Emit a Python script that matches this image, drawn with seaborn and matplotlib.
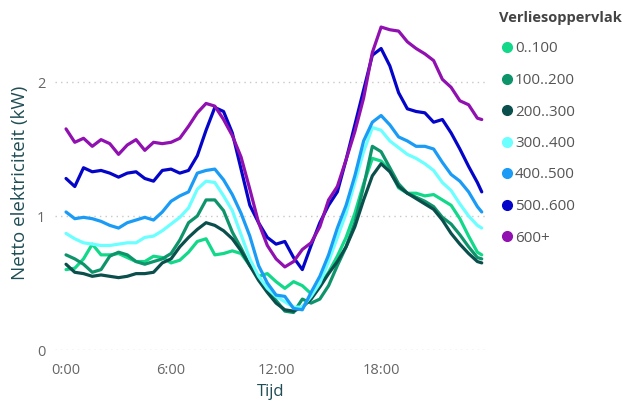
import numpy as np
import pandas as pd
import matplotlib
matplotlib.use("Agg")
import matplotlib.pyplot as plt
from matplotlib.lines import Line2D
import seaborn as sns

# ---- data ----
hours = [i * 0.5 for i in range(48)] + [23.75]

cat_0_100 = [0.60, 0.61, 0.68, 0.79, 0.71, 0.71, 0.72, 0.69, 0.66, 0.66, 0.70, 0.69,
             0.65, 0.67, 0.73, 0.81, 0.83, 0.71, 0.72, 0.74, 0.72, 0.63, 0.55, 0.57,
             0.51, 0.46, 0.51, 0.48, 0.42, 0.48, 0.58, 0.70, 0.84, 1.02, 1.24, 1.43,
             1.41, 1.34, 1.21, 1.17, 1.17, 1.15, 1.16, 1.12, 1.08, 0.98, 0.85, 0.73, 0.71]
cat_100_200 = [0.71, 0.68, 0.64, 0.58, 0.60, 0.70, 0.73, 0.71, 0.66, 0.64, 0.66, 0.68,
               0.72, 0.82, 0.95, 1.00, 1.12, 1.12, 1.04, 0.88, 0.76, 0.63, 0.54, 0.46,
               0.37, 0.29, 0.28, 0.38, 0.35, 0.38, 0.48, 0.63, 0.77, 0.95, 1.22, 1.52,
               1.48, 1.36, 1.24, 1.17, 1.14, 1.11, 1.07, 0.99, 0.94, 0.86, 0.77, 0.69, 0.68]
cat_200_300 = [0.64, 0.58, 0.57, 0.55, 0.56, 0.55, 0.54, 0.55, 0.57, 0.57, 0.58, 0.65,
               0.68, 0.77, 0.84, 0.90, 0.95, 0.93, 0.89, 0.83, 0.74, 0.63, 0.52, 0.43,
               0.35, 0.30, 0.29, 0.32, 0.38, 0.47, 0.57, 0.66, 0.77, 0.92, 1.12, 1.30,
               1.39, 1.33, 1.22, 1.17, 1.13, 1.09, 1.05, 0.97, 0.87, 0.79, 0.72, 0.66, 0.65]
cat_300_400 = [0.87, 0.83, 0.80, 0.79, 0.78, 0.78, 0.79, 0.80, 0.80, 0.84, 0.85, 0.89,
               0.94, 0.99, 1.06, 1.20, 1.26, 1.25, 1.15, 1.04, 0.86, 0.68, 0.55, 0.46,
               0.40, 0.36, 0.32, 0.32, 0.40, 0.50, 0.66, 0.84, 1.02, 1.25, 1.48, 1.66,
               1.64, 1.56, 1.51, 1.46, 1.43, 1.39, 1.34, 1.25, 1.19, 1.09, 1.00, 0.93, 0.91]
cat_400_500 = [1.03, 0.98, 0.99, 0.98, 0.96, 0.93, 0.91, 0.95, 0.97, 0.99, 0.97, 1.03,
               1.11, 1.15, 1.18, 1.32, 1.34, 1.35, 1.27, 1.16, 1.02, 0.85, 0.63, 0.50,
               0.41, 0.40, 0.31, 0.30, 0.43, 0.55, 0.71, 0.91, 1.08, 1.30, 1.56, 1.70,
               1.75, 1.68, 1.59, 1.56, 1.52, 1.52, 1.50, 1.40, 1.31, 1.26, 1.18, 1.07, 1.03]
cat_500_600 = [1.28, 1.22, 1.36, 1.33, 1.34, 1.32, 1.29, 1.32, 1.33, 1.28, 1.26, 1.34,
               1.35, 1.32, 1.34, 1.45, 1.64, 1.81, 1.78, 1.62, 1.35, 1.08, 0.95, 0.84,
               0.79, 0.81, 0.69, 0.60, 0.78, 0.95, 1.08, 1.18, 1.42, 1.68, 1.94, 2.20,
               2.25, 2.12, 1.92, 1.80, 1.78, 1.77, 1.70, 1.72, 1.62, 1.50, 1.37, 1.25, 1.18]
cat_600 = [1.65, 1.55, 1.58, 1.52, 1.57, 1.54, 1.46, 1.53, 1.57, 1.49, 1.55, 1.54,
           1.55, 1.58, 1.67, 1.77, 1.84, 1.82, 1.72, 1.60, 1.44, 1.20, 0.95, 0.78,
           0.68, 0.62, 0.66, 0.75, 0.80, 0.92, 1.12, 1.22, 1.42, 1.63, 1.88, 2.22,
           2.41, 2.39, 2.38, 2.30, 2.25, 2.21, 2.16, 2.02, 1.96, 1.86, 1.83, 1.73, 1.72]

categories = ["0..100", "100..200", "200..300", "300..400", "400..500", "500..600", "600+"]
series = [cat_0_100, cat_100_200, cat_200_300, cat_300_400, cat_400_500, cat_500_600, cat_600]
colors = ["#12D889", "#0E946A", "#0B4F4C", "#6BFFFF", "#1A9BF5", "#0505C9", "#9010B0"]
xtick_vals = [0, 6, 12, 18]
xtick_labels = ["0:00", "6:00", "12:00", "18:00"]
ytick_vals = [0, 1, 2]

df = pd.concat(
    [pd.DataFrame({"Tijd": hours, "kW": vals, "Verliesoppervlak": cat})
     for cat, vals in zip(categories, series)],
    ignore_index=True,
)

sns.set_theme(style="white")
plt.rcParams["font.family"] = ["Open Sans", "DejaVu Sans"]

fig = plt.figure(figsize=(6.27, 4.0), dpi=100)
ax = fig.add_axes([55 / 627, 50 / 400, (487 - 55) / 627, (350 - 15) / 400])

palette = dict(zip(categories, colors))
sns.lineplot(data=df, x="Tijd", y="kW", hue="Verliesoppervlak", hue_order=categories,
             palette=palette, linewidth=2.3, legend=False, ax=ax, zorder=3)

ax.set_xlim(-0.63, 24.05)
ax.set_ylim(0, 2.5)
ax.set_xticks(xtick_vals)
ax.set_xticklabels(xtick_labels)
ax.set_yticks(ytick_vals)
ax.set_yticklabels([str(v) for v in ytick_vals])
ax.tick_params(axis="both", length=0, labelsize=10.5, colors="#666666")
ax.tick_params(axis="x", pad=9)
ax.tick_params(axis="y", pad=7)
for s in ax.spines.values():
    s.set_visible(False)
ax.grid(axis="y", color="#C8C8C8", linestyle=(0, (1, 3)), linewidth=1.0, zorder=0)
ax.grid(axis="x", visible=False)

ax.set_xlabel("Tijd", fontsize=12, color="#1F4E55", labelpad=5)
ax.set_ylabel("Netto elektriciteit (kW)", fontsize=13.5, color="#1F4E55", labelpad=6)

handles = [Line2D([0], [0], marker="o", linestyle="none", markersize=7,
                  markerfacecolor=c, markeredgecolor=c) for c in colors]
leg = fig.legend(handles, categories, loc="upper left",
                 bbox_to_anchor=(499 / 627, 1 - 11 / 400), frameon=False,
                 title="Verliesoppervlak", fontsize=11, labelspacing=1.08,
                 handletextpad=0.05, handlelength=1.0, borderaxespad=0, borderpad=0,
                 alignment="left")
leg.get_title().set_fontweight("bold")
leg.get_title().set_fontsize(10.5)
leg.get_title().set_color("#444444")
for t in leg.get_texts():
    t.set_color("#555555")

fig.savefig("out.png", dpi=100)
